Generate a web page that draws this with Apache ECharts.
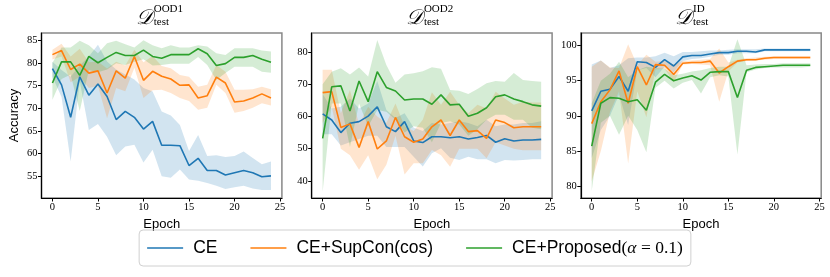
<!DOCTYPE html>
<html>
<head>
<meta charset="utf-8">
<script src="https://cdn.jsdelivr.net/npm/echarts/dist/echarts.min.js"></script>
<style>
html,body{margin:0;padding:0;background:#fff;}
#c{width:830px;height:277px;}
</style>
</head>
<body>
<div id="c"></div>
<script>
const epochs = [0,1,2,3,4,5,6,7,8,9,10,11,12,13,14,15,16,17,18,19,20,21,22,23,24];
const xTicks = [0,5,10,15,20,25];
const seriesNames = ['CE', 'CE+SupCon(cos)', 'CE+Proposed'];
const panelTitles = [['OOD1','test'], ['OOD2','test'], ['ID','test']];

// Panel 1: D_test^OOD1
const ood1_ce    = [78.8,75.2,68.0,77.0,72.9,75.4,72.6,67.5,69.3,68.0,65.4,67.1,61.8,61.8,61.7,57.3,58.9,56.2,56.2,55.2,55.7,56.2,55.7,54.8,55.0];
const ood1_ce_hi = [80.3,78.5,77.0,79.5,81.5,84.1,80.4,78.6,77.5,76.4,74.5,73.7,69.3,68.4,66.3,60.5,64.1,59.4,59.6,59.2,59.4,60.4,59.0,57.6,58.2];
const ood1_ce_lo = [77.0,72.5,58.2,76.0,65.2,66.5,63.7,59.6,61.5,61.9,58.0,60.8,54.9,54.6,56.4,54.2,53.9,53.4,52.8,52.1,52.5,52.8,52.2,51.9,51.9];
const ood1_sup    = [81.9,82.8,78.6,79.8,77.8,78.3,73.4,78.3,76.7,81.5,76.2,78.2,77.1,76.5,75.1,75.2,72.3,72.8,76.9,75.6,71.4,71.6,72.3,73.2,72.3];
const ood1_sup_hi = [83.0,84.3,81.5,83.2,80.2,80.3,78.8,80.3,79.5,83.0,80.2,81.6,79.4,78.9,77.4,77.0,74.8,75.2,79.6,78.1,74.1,74.1,74.2,74.8,74.2];
const ood1_sup_lo = [80.8,81.5,75.8,77.0,74.5,75.0,67.8,74.5,73.8,79.0,72.3,74.0,74.1,73.4,72.3,71.6,69.7,70.1,75.2,73.4,69.0,69.4,70.1,71.1,70.6];
const ood1_prop    = [75.6,80.3,80.3,77.3,81.5,80.1,81.3,82.4,81.7,81.7,82.9,81.5,81.1,81.9,81.9,81.9,83.2,82.1,79.5,79.9,81.3,81.3,81.7,80.9,80.2];
const ood1_prop_hi = [80.1,83.5,83.5,85.0,84.0,82.2,84.4,85.0,84.2,83.5,85.1,84.0,83.3,84.0,83.5,83.5,84.0,83.7,82.2,81.8,83.3,83.3,83.3,82.8,82.6];
const ood1_prop_lo = [71.9,76.5,77.5,69.4,78.5,78.0,78.6,80.0,79.6,80.3,80.9,79.5,79.6,79.9,79.9,79.9,81.4,79.6,76.3,77.8,79.2,79.2,79.2,78.1,77.9];
const ood1_yTicks = [55,60,65,70,75,80,85];

// Panel 2: D_test^OOD2
const ood2_ce    = [60.8,58.9,55.0,57.9,58.4,60.1,63.0,56.8,55.3,58.4,52.4,51.9,53.7,53.7,53.4,53.7,53.0,53.5,54.1,52.0,53.1,52.4,52.7,52.7,52.9];
const ood2_ce_hi = [67.0,62.5,63.0,65.6,62.5,64.0,71.0,62.0,59.5,61.0,56.5,55.5,58.0,57.5,58.0,58.5,58.0,57.0,59.0,57.0,57.5,57.5,58.0,58.0,58.5];
const ood2_ce_lo = [54.5,54.5,51.0,52.0,53.0,54.0,54.0,50.5,50.5,50.5,47.5,44.5,48.6,50.1,47.2,46.5,47.5,46.7,46.7,45.5,46.5,46.3,46.5,46.7,46.7];
const ood2_sup    = [67.4,67.7,56.6,57.7,50.4,58.4,49.9,52.4,59.7,53.7,52.0,53.0,56.8,58.9,54.1,58.9,55.3,55.6,53.2,58.9,58.1,56.5,56.8,56.8,56.8];
const ood2_sup_hi = [74.5,74.5,61.0,68.2,57.5,63.0,60.0,58.0,64.0,57.0,55.5,59.0,67.5,63.6,67.7,63.6,61.0,63.6,62.5,67.7,65.6,63.6,64.6,64.3,64.3];
const ood2_sup_lo = [58.0,63.0,50.0,48.0,43.5,48.0,40.5,45.0,54.0,42.0,45.5,45.5,49.6,48.0,44.4,50.0,50.0,50.0,47.0,52.0,51.0,50.0,49.5,49.5,49.5];
const ood2_prop    = [53.2,69.2,69.5,61.7,71.0,64.6,73.9,69.0,67.9,65.1,65.4,65.4,63.8,66.7,63.6,63.8,60.1,61.0,62.7,66.1,66.7,65.4,64.6,63.6,63.2];
const ood2_prop_hi = [70.0,73.9,75.0,73.0,75.2,72.4,83.7,76.0,70.5,73.0,73.4,74.0,75.3,74.8,68.2,68.0,67.0,68.5,70.3,71.0,70.8,73.5,71.3,71.0,70.8];
const ood2_prop_lo = [36.6,64.0,64.0,50.5,64.0,57.0,62.0,61.5,59.0,55.0,57.0,56.5,52.0,58.0,58.5,57.5,54.0,56.0,59.0,60.5,60.5,59.0,59.0,56.5,56.0];
const ood2_yTicks = [40,50,60,70,80];

// Panel 3: D_test^ID
const id_ce    = [90.7,93.5,93.8,95.6,93.5,97.7,97.6,96.9,98.0,97.1,98.4,98.6,98.6,98.8,99.0,99.0,99.2,99.2,99.1,99.4,99.4,99.4,99.4,99.4,99.4];
const id_ce_hi = [97.3,97.9,96.8,97.2,98.2,98.3,98.3,98.5,99.0,98.5,99.1,99.1,99.2,99.3,99.3,99.4,99.5,99.5,99.5,99.6,99.6,99.6,99.6,99.6,99.6];
const id_ce_lo = [84.0,88.0,90.0,93.0,88.7,96.5,96.8,95.5,97.0,96.2,97.8,98.1,98.2,98.4,98.7,98.7,98.9,98.9,98.9,99.2,99.2,99.2,99.2,99.2,99.2];
const id_sup    = [88.9,92.0,93.7,96.4,91.8,97.0,94.4,97.3,97.2,95.9,97.5,97.6,97.6,97.8,96.1,97.0,97.8,98.0,98.0,98.2,98.3,98.3,98.3,98.3,98.3];
const id_sup_hi = [97.0,97.9,96.9,96.8,100.2,97.2,98.7,97.7,97.8,97.3,97.8,97.9,98.0,98.1,99.6,97.6,98.0,98.2,98.3,98.4,98.5,98.5,98.5,98.5,98.5];
const id_sup_lo = [80.7,85.0,90.5,93.5,83.2,93.5,89.8,96.6,96.7,94.8,97.3,97.4,97.3,97.2,92.0,96.3,97.6,97.8,97.9,98.0,98.1,98.1,98.1,98.1,98.1];
const id_prop    = [85.7,91.8,92.6,92.5,92.0,92.3,90.8,94.8,95.9,95.0,95.4,95.7,95.1,96.2,96.3,96.3,92.6,96.5,96.9,97.0,97.1,97.2,97.2,97.2,97.2];
const id_prop_hi = [91.8,95.0,96.0,97.7,95.5,96.5,97.0,96.8,96.7,95.8,96.0,96.3,96.5,96.8,97.0,97.0,100.9,97.2,97.3,97.4,97.4,97.5,97.5,97.5,97.5];
const id_prop_lo = [79.3,89.0,90.0,87.3,90.0,88.0,84.8,94.0,95.0,93.9,94.7,95.1,93.2,95.5,95.8,95.6,84.5,96.2,96.6,96.8,96.9,96.9,96.9,96.9,97.0];
const id_yTicks = [80,85,90,95,100];

const colors = ['#1f77b4', '#ff7f0e', '#2ca02c'];
const bandColors = ['rgba(31,119,180,0.2)', 'rgba(255,127,14,0.2)', 'rgba(44,160,44,0.2)'];

const panels = [
  {left: 41.5, yMin: 50.1, yMax: 86.7, yTicks: ood1_yTicks,
   mean: [ood1_ce, ood1_sup, ood1_prop], lo: [ood1_ce_lo, ood1_sup_lo, ood1_prop_lo], hi: [ood1_ce_hi, ood1_sup_hi, ood1_prop_hi]},
  {left: 311.7, yMin: 34.7, yMax: 85.9, yTicks: ood2_yTicks,
   mean: [ood2_ce, ood2_sup, ood2_prop], lo: [ood2_ce_lo, ood2_sup_lo, ood2_prop_lo], hi: [ood2_ce_hi, ood2_sup_hi, ood2_prop_hi]},
  {left: 580.8, yMin: 78.3, yMax: 101.8, yTicks: id_yTicks,
   mean: [id_ce, id_sup, id_prop], lo: [id_ce_lo, id_sup_lo, id_prop_lo], hi: [id_ce_hi, id_sup_hi, id_prop_hi]}
];

const PW = 240.4, PT = 33, PH = 165;
const tickFont = 'Liberation Serif';
const grids = [], xAxes = [], yAxes = [], series = [], graphics = [];

function bandRenderer(lo, hi, color) {
  return function (params, api) {
    if (params.dataIndex !== 0) return null;
    const pts = [];
    for (let j = 0; j < epochs.length; j++) pts.push(api.coord([epochs[j], hi[j]]));
    for (let j = epochs.length - 1; j >= 0; j--) pts.push(api.coord([epochs[j], lo[j]]));
    return {type: 'polygon', shape: {points: pts}, style: {fill: color, stroke: 'none'}, silent: true};
  };
}

panels.forEach((p, i) => {
  grids.push({left: p.left, top: PT, width: PW, height: PH, show: true, borderColor: '#888', borderWidth: 1.5, backgroundColor: 'transparent'});
  xAxes.push({
    type: 'value', gridIndex: i, min: -1.2, max: 25.2,
    name: 'Epoch', nameLocation: 'middle', nameGap: 12,
    nameTextStyle: {fontFamily: 'Liberation Sans', fontSize: 13, color: '#000'},
    axisLine: {show: true, onZero: false, lineStyle: {color: '#000', width: 1.2}},
    axisTick: {show: true, length: 3.5, lineStyle: {color: '#000'}, customValues: xTicks},
    axisLabel: {customValues: xTicks, fontFamily: tickFont, fontSize: 10.5, color: '#000', margin: 4},
    splitLine: {show: false}
  });
  yAxes.push({
    type: 'value', gridIndex: i, min: p.yMin, max: p.yMax,
    axisLine: {show: true, onZero: false, lineStyle: {color: '#000', width: 1.2}},
    axisTick: {show: true, length: 3.5, lineStyle: {color: '#000'}, customValues: p.yTicks},
    axisLabel: {customValues: p.yTicks, fontFamily: tickFont, fontSize: 10.5, color: '#000', margin: 4},
    splitLine: {show: false}
  });
  for (let k = 0; k < 3; k++) {
    series.push({
      type: 'custom', name: 'band' + i + k, xAxisIndex: i, yAxisIndex: i,
      data: epochs.map((e, j) => [e, p.lo[k][j], p.hi[k][j]]),
      encode: {x: 0, y: [1, 2]},
      renderItem: bandRenderer(p.lo[k], p.hi[k], bandColors[k]),
      clip: true, silent: true, z: 1
    });
  }
  for (let k = 0; k < 3; k++) {
    series.push({
      type: 'line', name: seriesNames[k], xAxisIndex: i, yAxisIndex: i,
      data: epochs.map((e, j) => [e, p.mean[k][j]]),
      symbol: 'none', color: colors[k], lineStyle: {color: colors[k], width: 1.6}, z: 3
    });
  }
  const cx = p.left + PW / 2;
  graphics.push({type: 'text', left: cx - 26, top: 8, style: {text: '𝒟', font: 'italic 21px "DejaVu Serif"', fill: '#000'}});
  graphics.push({type: 'text', left: cx - 8, top: 4, style: {text: panelTitles[i][0], font: '11px "Liberation Serif"', fill: '#000'}});
  graphics.push({type: 'text', left: cx - 8, top: 17, style: {text: panelTitles[i][1], font: '11px "Liberation Serif"', fill: '#000'}});
});

graphics.push({type: 'text', x: 14, y: 115.5, rotation: Math.PI / 2,
  style: {text: 'Accuracy', font: '13px "Liberation Sans"', fill: '#000', align: 'center', verticalAlign: 'middle'}});

const chart = echarts.init(document.getElementById('c'), null, {renderer: 'canvas'});
chart.setOption({
  animation: false,
  backgroundColor: '#fff',
  grid: grids, xAxis: xAxes, yAxis: yAxes, series: series,
  graphic: graphics,
  legend: {
    data: seriesNames, left: 'center', top: 230, orient: 'horizontal',
    icon: 'rect', itemWidth: 36, itemHeight: 1.6, itemGap: 33,
    padding: [9, 8], borderColor: '#d0d0d0', borderWidth: 1, borderRadius: 4,
    textStyle: {fontFamily: 'Liberation Sans', fontSize: 17.5, color: '#000', padding: [0, 0, 0, 5],
      rich: {m: {fontFamily: 'Liberation Serif', fontStyle: 'italic', fontSize: 17.5, color: '#000'},
             r: {fontFamily: 'Liberation Serif', fontSize: 17.5, color: '#000'}}},
    formatter: function (name) {
      if (name === 'CE+Proposed') return 'CE+Proposed{r|(}{m|α}{r| = 0.1)}';
      return name;
    }
  }
});
</script>
</body>
</html>
